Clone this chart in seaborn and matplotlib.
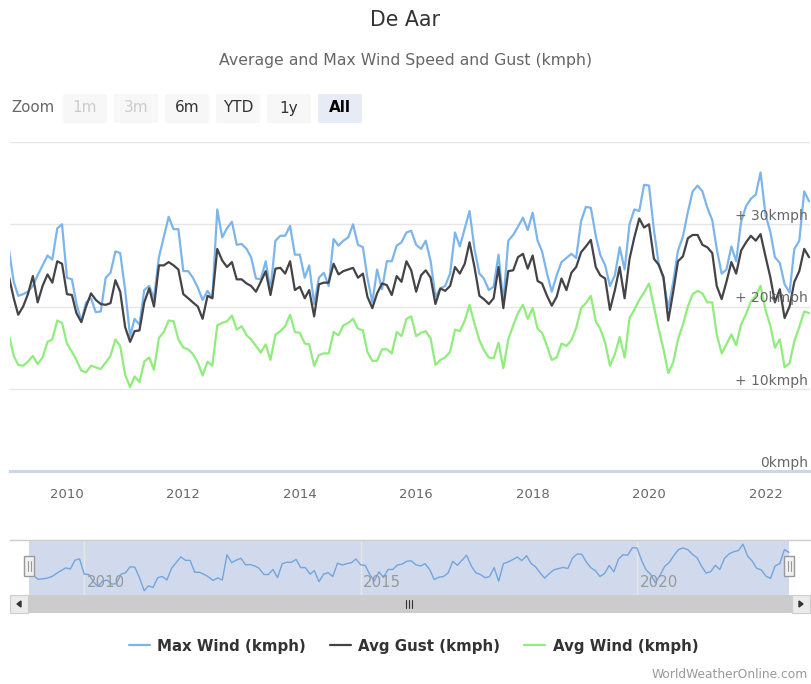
import pandas as pd
import matplotlib
matplotlib.use('Agg')
import matplotlib.pyplot as plt
import matplotlib.dates as mdates
from matplotlib.patches import Rectangle, FancyBboxPatch
import seaborn as sns

# monthly values, Jan 2009 .. Oct 2022
start_month = '2009-01-01'
max_wind = [27, 23, 21.3, 21.5, 21.8, 22.5, 23.8, 25, 26.2, 25.7, 29.5, 30,
            23.5, 23.3, 20.4, 18.2, 20.5, 21, 19.3, 19.4, 23.5, 24.1, 26.7, 26.5,
            22, 16.4, 18.5, 17.8, 22, 22.5, 21, 26, 28.5, 30.9, 29.4, 29.4,
            24.3, 24.3, 23.5, 22.3, 20.8, 21.9, 21, 31.8, 28.4, 29.5, 30.3, 27.5,
            27.6, 27, 26, 23.4, 23.3, 25.5, 22, 28, 28.6, 28.6, 29.8, 26.3,
            26.3, 23.5, 25, 20.3, 23.5, 24.1, 22.5, 28.2, 27.4, 28, 28.4, 30,
            27.5, 27.2, 23.5, 20.5, 24.5, 22.1, 25.5, 25.5, 27.4, 27.8, 29, 29.2,
            27.5, 27, 28, 25.5, 21.2, 22.2, 22.5, 24, 29, 27.3, 29.5, 31.6,
            27, 24, 23.4, 22, 22.4, 26.3, 20.5, 28, 28.7, 29.7, 30.8, 29.3,
            31.4, 28, 26.7, 24, 21.8, 23.8, 25.4, 25.9, 26.4, 25.9, 30.4, 32.1,
            32, 28.6, 26.3, 25, 22.5, 23.8, 27.2, 24.5, 30, 31.8, 31.6, 34.8,
            34.7, 29.3, 25.3, 23.3, 19.8, 23, 26.8, 28.5, 31.5, 34, 34.7, 34,
            32, 30.5, 27, 24, 24.5, 27.3, 25.5, 30.3, 32.2, 33.1, 33.6, 36.3,
            31.2, 29, 26, 25.3, 22.7, 21.7, 27, 28, 34, 32.8]
avg_gust = [23.7, 21, 19, 20, 21.5, 23.7, 20.5, 22.5, 23.9, 22.9, 25.5, 25.2,
            21.5, 21.4, 19.2, 18.1, 20, 21.6, 20.8, 20.3, 20.2, 20.4, 23.2, 21.8,
            17.5, 15.7, 17, 17.1, 20.5, 22.2, 20, 25, 25, 25.4, 25, 24.5,
            21.5, 21, 20.5, 20, 18.5, 21.3, 21, 27, 25.6, 24.8, 25.4, 23.3,
            23.3, 22.8, 22.5, 21.8, 23, 24.3, 21.4, 24.6, 24.7, 24, 25.5, 22,
            22.4, 21, 22, 18.8, 22.7, 22.9, 22.9, 25.2, 23.9, 24.3, 24.5, 24.7,
            23.5, 24, 21.2, 19.8, 21.6, 22.8, 22.6, 21.4, 23.7, 23, 25.5, 24.4,
            21.8, 23.8, 24.4, 23.5, 20.3, 22.2, 21.9, 22.5, 24.8, 24, 25.2, 27.8,
            24.8, 21.3, 20.9, 20.3, 21, 24.8, 19.8, 24.3, 24.4, 26, 26.4, 24.6,
            26.2, 23.1, 22.8, 21.3, 20.1, 21.2, 23.4, 22, 24.1, 24.8, 26.6, 27.3,
            28.1, 24.8, 23.8, 23.4, 19.6, 22, 24.8, 21, 25.8, 28.4, 30.7, 29.6,
            30, 25.8, 25.1, 23.6, 18.3, 21.8, 25.5, 26.1, 28.3, 28.7, 28.7, 27.5,
            27.2, 26.5, 22.5, 20.9, 23, 25.4, 24, 26.8, 27.8, 28.6, 28, 28.8,
            26.1, 23.5, 20.5, 22.1, 18.6, 20, 23, 24.3, 27, 26]
avg_wind = [16.6, 14, 12.9, 12.8, 13.3, 14.0, 13.0, 13.8, 15.7, 16, 18.3, 18,
            15.5, 14.5, 13.5, 12.2, 12, 12.8, 12.6, 12.4, 13.2, 14, 16, 15.2,
            11.7, 10.2, 11.5, 10.8, 13.3, 13.8, 12.3, 16.2, 16.9, 18.3, 18.2, 16,
            15, 14.8, 14.2, 13.2, 11.6, 13.3, 12.8, 17.7, 18, 18.2, 18.9, 17.2,
            17.6, 16.5, 16, 15.2, 14.4, 15.4, 13.5, 16.6, 17, 17.6, 19, 16.9,
            16.8, 15.5, 15.4, 12.8, 14.1, 14.3, 14.3, 16.9, 16.5, 17.7, 18, 18.5,
            17.3, 17.1, 14.5, 13.4, 13.4, 14.8, 14.8, 14.3, 16.9, 16.4, 18.5, 18.8,
            16.4, 16.8, 17, 16.1, 12.9, 13.5, 13.8, 14.5, 17.2, 17, 18.3, 20.2,
            17.9, 15.9, 14.7, 13.8, 13.7, 15.6, 12.5, 16, 17.7, 19.2, 20.2, 18.5,
            19.8, 17.3, 16.8, 15.2, 13.5, 13.8, 15.5, 15.2, 15.9, 17.4, 19.8, 20.4,
            21.3, 18.2, 17.3, 15.6, 12.8, 14.2, 16.3, 13.8, 18.6, 19.6, 20.8, 21.7,
            22.8, 20, 17.3, 14.8, 11.9, 13.2, 16, 17.8, 20, 21.5, 21.9, 21.6,
            20.5, 20.5, 16.6, 14.3, 15.4, 16.6, 15.3, 17.8, 19.1, 20.6, 21.3, 22.5,
            19.6, 17.6, 15, 16, 12.6, 13.1, 15.8, 17.5, 19.4, 19.2]

series_names = ['Max Wind (kmph)', 'Avg Gust (kmph)', 'Avg Wind (kmph)']
series_colors = ['#7cb5ec', '#434348', '#90ed7d']
y_levels = [0, 10, 20, 30]
y_labels = ['0kmph', '+ 10kmph', '+ 20kmph', '+ 30kmph']
nav_years = [2010, 2015, 2020]
zoom_buttons = ['1m', '3m', '6m', 'YTD', '1y', 'All']
zoom_disabled = ['1m', '3m']
zoom_selected = 'All'

dates = pd.date_range(start_month, periods=len(max_wind), freq='MS')
df = pd.DataFrame({'date': dates, series_names[0]: max_wind,
                   series_names[1]: avg_gust, series_names[2]: avg_wind})
long_df = df.melt(id_vars='date', var_name='series', value_name='kmph')

sns.set_style('white')
plt.rcParams['font.family'] = ['DejaVu Sans']

W, H = 811, 684
fig = plt.figure(figsize=(W / 100, H / 100), dpi=100)

# ---- main chart
ax = fig.add_axes([10 / W, 1 - 471 / H, 800 / W, 329 / H])
sns.lineplot(data=long_df, x='date', y='kmph', hue='series', hue_order=series_names,
             palette=series_colors, linewidth=1.6, ax=ax,
             solid_joinstyle='round', solid_capstyle='round')
handles, labels = ax.get_legend_handles_labels()
ax.get_legend().remove()

d0 = mdates.date2num(dates[0])
d1 = mdates.date2num(dates[-1])
k = (d1 - d0) / (809 - 8.8)
ax.set_xlim(d0 + (10 - 8.8) * k, d0 + (810 - 8.8) * k)
ax.set_ylim(0, 40)
ax.set_yticks([0, 10, 20, 30, 40])
ax.set_yticklabels([])
ax.tick_params(axis='y', length=0)
ax.yaxis.grid(True, color='#e6e6e6', linewidth=1)
ax.xaxis.grid(False)
ax.xaxis.set_major_locator(mdates.YearLocator(2))
ax.xaxis.set_major_formatter(mdates.DateFormatter('%Y'))
ax.tick_params(axis='x', colors='#ccd6eb', length=8, width=1, pad=4,
               labelcolor='#666666', labelsize=9.5)
for s in ['top', 'left', 'right']:
    ax.spines[s].set_visible(False)
ax.spines['bottom'].set_color('#ccd6eb')
ax.spines['bottom'].set_linewidth(2.2)
ax.set_xlabel('')
ax.set_ylabel('')
for lv, lb in zip(y_levels, y_labels):
    ax.text(0.9975, lv + 1.0, lb, transform=ax.get_yaxis_transform(),
            ha='right', va='center', fontsize=10, color='#666666', zorder=10)

# ---- navigator
nav = fig.add_axes([10 / W, 1 - 595 / H, 800 / W, 55 / H])
k2 = (d1 - d0) / (789 - 29)
nav.axvspan(d0, d1, color='#d1daed', zorder=0, lw=0)
for yr in nav_years:
    xd = mdates.date2num(pd.Timestamp(f'{yr}-01-01'))
    nav.axvline(xd, color='#e6e6e6', lw=1, zorder=1)
    nav.text(xd + 2.5 * k2, 0.22, str(yr), transform=nav.get_xaxis_transform(),
             ha='left', va='center', fontsize=10.8, color='#999999')
sns.lineplot(data=df, x='date', y=series_names[0], color='#72a5de', linewidth=1.0,
             ax=nav, zorder=2)
nav.set_xlim(d0 - 19 * k2, d0 + 781 * k2)
nav.set_ylim(14.6, 38.1)
nav.set_xticks([])
nav.set_yticks([])
nav.set_xlabel('')
nav.set_ylabel('')
for s in ['bottom', 'left', 'right']:
    nav.spines[s].set_visible(False)
nav.spines['top'].set_color('#cccccc')
nav.spines['top'].set_linewidth(1)

# ---- decorations in pixel space
deco = fig.add_axes([0, 0, 1, 1])
deco.set_xlim(0, W)
deco.set_ylim(H, 0)
deco.axis('off')
deco.patch.set_alpha(0)

# navigator handles
for hx in (29, 789):
    deco.add_patch(Rectangle((hx - 5, 556), 10, 20, facecolor='#f2f2f2',
                             edgecolor='#999999', lw=1, zorder=5))
    deco.plot([hx - 1.5, hx - 1.5], [561, 571], color='#999999', lw=0.8, zorder=6)
    deco.plot([hx + 1.5, hx + 1.5], [561, 571], color='#999999', lw=0.8, zorder=6)

# scrollbar
deco.add_patch(Rectangle((10, 595), 800, 18, facecolor='#f2f2f2', edgecolor='none'))
deco.add_patch(Rectangle((28, 595), 764, 18, facecolor='#cccccc', edgecolor='none'))
deco.add_patch(Rectangle((10, 595), 18, 18, facecolor='#ebebeb', edgecolor='#cccccc', lw=0.8))
deco.add_patch(Rectangle((792, 595), 18, 18, facecolor='#ebebeb', edgecolor='#cccccc', lw=0.8))
deco.fill([21, 17, 21], [601, 604, 607], color='#333333')
deco.fill([799, 803, 799], [601, 604, 607], color='#333333')
for dx in (-3, 0, 3):
    deco.plot([409 + dx, 409 + dx], [600, 608], color='#333333', lw=0.8)

# range selector
deco.text(11, 108, 'Zoom', ha='left', va='center', fontsize=10.8, color='#666666')
for i, lbl in enumerate(zoom_buttons):
    x0 = 63 + i * 51
    face = '#e6ebf5' if lbl == zoom_selected else '#f7f7f7'
    deco.add_patch(FancyBboxPatch((x0, 94), 44, 29, boxstyle='round,pad=0,rounding_size=2',
                                  facecolor=face, edgecolor='none'))
    col = '#cccccc' if lbl in zoom_disabled else '#333333'
    if lbl == zoom_selected:
        col = '#000000'
    deco.text(x0 + 22, 108, lbl, ha='center', va='center', fontsize=11, color=col,
              fontweight='bold' if lbl == zoom_selected else 'normal')

# titles, legend, credits
fig.text(0.5, 1 - 20 / H, 'De Aar', ha='center', va='center', fontsize=14.8, color='#333333')
fig.text(0.5, 1 - 61 / H, 'Average and Max Wind Speed and Gust (kmph)', ha='center',
         va='center', fontsize=11.3, color='#666666')
leg = fig.legend(handles, labels, loc='center', bbox_to_anchor=(0.51, 1 - 646 / H), ncol=3,
                 frameon=False, prop={'weight': 'bold', 'size': 10.8}, handlelength=1.4,
                 columnspacing=1.6, handletextpad=0.5)
for t in leg.get_texts():
    t.set_color('#333333')
fig.text(808 / W, 1 - 675 / H, 'WorldWeatherOnline.com', ha='right', va='center',
         fontsize=8.8, color='#999999')

fig.savefig('out.png', dpi=100)
